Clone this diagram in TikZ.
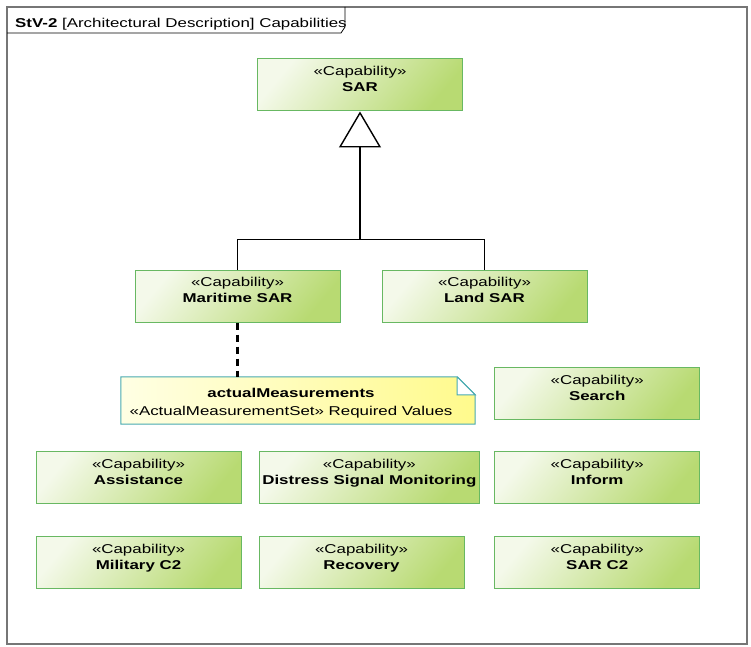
\documentclass[tikz,border=0pt]{standalone}
\usepackage{fontspec}
\setmainfont{Liberation Sans}[FakeStretch = 1.32]
\usetikzlibrary{positioning, calc, arrows.meta, backgrounds}
\definecolor{capEdge}{RGB}{104,184,98}
\definecolor{capLight}{RGB}{244,249,234}
\definecolor{capDark}{RGB}{184,218,114}
\definecolor{noteEdge}{RGB}{72,170,176}
\definecolor{noteLight}{RGB}{255,255,228}
\definecolor{noteDark}{RGB}{255,250,140}
\definecolor{frameGray}{RGB}{118,118,118}
\tikzset{
  capability/.style = {draw = capEdge, line width = 1pt, align = center,
    left color = capLight, right color = capDark, shading angle = 50,
    minimum width = 205pt, minimum height = 52pt, inner ysep = 0pt,
    text height = 33pt, text depth = 19pt},
  measurement/.style = {align = center, minimum width = 354pt,
    minimum height = 47pt, inner ysep = 0pt, text height = 38pt,
    text depth = 9pt, font = \fontsize{12.8}{18}\selectfont},
  noteline/.style = {draw = noteEdge, line width = 1pt},
  notefill/.style = {noteline, left color = noteLight, right color = noteDark},
  generalization/.style = {line width = 1.4pt,
    -{Triangle[open, length = 36pt, width = 42pt, fill = white]}},
  branch/.style = {line width = 1.4pt},
  trace/.style = {line width = 2.8pt, dash pattern = on 7pt off 5pt}
}
\newcommand {\stereo} [1] {«Capability»\\\textbf{#1}}

\begin{document}
\begin{tikzpicture} [x = 1pt, y = 1pt, font = \fontsize{12.8}{16}\selectfont]
\useasboundingbox (0,0) rectangle (751,646);

%% Frame
\draw [frameGray, line width = 1.6pt] (7,2) rectangle (747,639);
\draw [line width = 0.8pt] (7,613) -- (341,613) -- (345,619) -- (345,639);
\node [anchor = base west, inner sep = 0] (title) at (15,618)
  {\textbf{StV-2} [Architectural Description] Capabilities};

%% Capabilities
\node [capability] (sar) at (360,561) {\stereo{SAR}};
\node [capability] (maritime) at (237.5,350) {\stereo{Maritime SAR}};
\node [capability] (land) [right = 41pt of maritime] {\stereo{Land SAR}};

\node [capability] (assistance) at (138.5,169) {\stereo{Assistance}};
\node [capability, minimum width = 217pt] (distress) [right = 17pt of assistance]
  {\stereo{Distress Signal Monitoring}};
\node [capability] (inform) [right = 14pt of distress] {\stereo{Inform}};
\node [capability] (search) [above = 31pt of inform] {\stereo{Search}};

\node [capability] (military) [below = 32pt of assistance] {\stereo{Military C2}};
\node [capability] (recovery) [right = 17pt of military] {\stereo{Recovery}};
\node [capability] (sarctwo) [below = 32pt of inform] {\stereo{SAR C2}};

%% Note
\node [measurement] (measures) at (298,245.5)
  {\textbf{actualMeasurements}\hspace*{14pt}\\«ActualMeasurementSet» Required Values\hspace*{14pt}};
\begin{scope} [on background layer]
\shade [notefill] (measures.north west) -- ([xshift = -18pt] measures.north east)
  -- ([yshift = -18pt] measures.north east) -- (measures.south east)
  -- (measures.south west) -- cycle;
\end{scope}
\fill [white] ([xshift = -18pt] measures.north east)
  -- ([yshift = -18pt] measures.north east) -- ++(-18pt,0) -- cycle;
\draw [noteline] ([xshift = -18pt] measures.north east)
  |- ([yshift = -18pt] measures.north east)
  -- ([xshift = -18pt] measures.north east);

%% Generalization
\coordinate (fork) at ($(sar.south) + (0,-128pt)$);
\draw [generalization] (maritime.north) |- (fork) -- (sar.south);
\draw [branch] (land.north) |- (fork);

%% Trace
\draw [trace] (maritime.south) -- (maritime.south |- measures.north);

\end{tikzpicture}
\end{document}
